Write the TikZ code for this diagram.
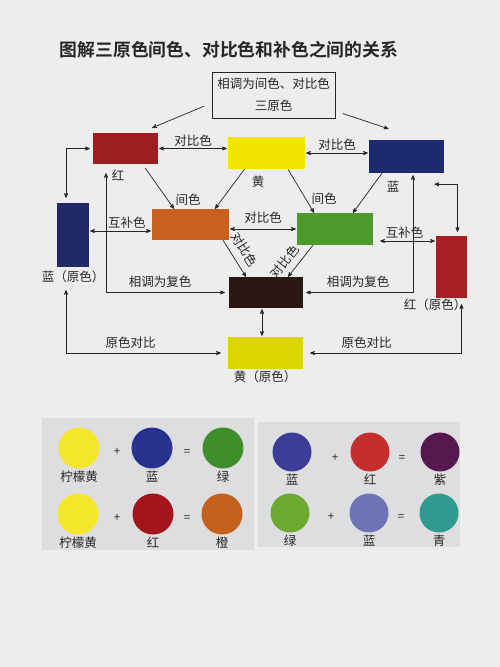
\documentclass[tikz,border=0pt]{standalone}
\usepackage{fontspec}
\setmainfont{Noto Sans CJK SC}
\newfontfamily\titlefont{Noto Sans CJK SC Bold}
\usepackage{tikz}
\usetikzlibrary{arrows}
\usetikzlibrary{calc}
\usetikzlibrary{positioning}

\definecolor{paper}{HTML}{EDEDEE}
\definecolor{panel}{HTML}{DEDEE1}
\definecolor{ink}{HTML}{262626}
\definecolor{redA}{HTML}{9C1E1E}
\definecolor{yellowA}{HTML}{F2E500}
\definecolor{blueA}{HTML}{1E2A6E}
\definecolor{orangeA}{HTML}{C8601E}
\definecolor{greenA}{HTML}{4C9A2A}
\definecolor{blueB}{HTML}{1F2A66}
\definecolor{redB}{HTML}{A82024}
\definecolor{darkA}{HTML}{2B1712}
\definecolor{yellowB}{HTML}{DCD600}
\definecolor{lemonC}{HTML}{F4E62A}
\definecolor{blueC}{HTML}{27338F}
\definecolor{greenC}{HTML}{3E8E2C}
\definecolor{redC}{HTML}{A3141B}
\definecolor{orangeC}{HTML}{C2621C}
\definecolor{blueD}{HTML}{3B3E96}
\definecolor{redD}{HTML}{C42F2B}
\definecolor{purpleD}{HTML}{56184E}
\definecolor{greenD}{HTML}{6BAA2F}
\definecolor{lavenderD}{HTML}{6E72B6}
\definecolor{tealD}{HTML}{319A8F}

\begin{document}
\begin{tikzpicture}[x=1pt,y=-1pt,>=stealth',
	colour box/.style={inner sep=0pt,minimum width=76pt,minimum height=32pt},
	tall box/.style={inner sep=0pt,minimum width=32pt,minimum height=63pt},
	label/.style={font=\fontsize{12.5}{15}\selectfont,text=ink,inner sep=2pt},
	arr/.style={->,draw=ink,line width=0.7pt},
	link/.style={<->,draw=ink,line width=0.7pt,shorten >=1pt,shorten <=1pt},
	blob/.style={circle,inner sep=0pt,minimum size=41pt},
	sign/.style={font=\fontsize{11.5}{13}\selectfont,text=ink}]

	\fill[paper] (0,0) rectangle (500,667);
	\useasboundingbox (0,0) rectangle (500,667);

	\node[font=\titlefont\fontsize{17.8}{21}\selectfont,text=ink] (title) at (229,50) {图解三原色间色、对比色和补色之间的关系};
	\node[label,draw=ink,line width=0.7pt,align=center,minimum width=123pt,minimum height=46pt] (rule) at (273.5,95) {相调为间色、对比色\\[7pt]三原色};

	% colour boxes
	\node[colour box,fill=redA,minimum width=65pt,minimum height=31pt] (red) at (125.5,148.5) {};
	\node[colour box,fill=yellowA,minimum width=77pt] (yellow) at (266.5,153) {};
	\node[colour box,fill=blueA,minimum width=75pt,minimum height=33pt] (blue) at (406.5,156.5) {};
	\node[colour box,fill=orangeA,minimum width=77pt,minimum height=31pt] (orange) at (190.5,224.5) {};
	\node[colour box,fill=greenA] (green) at (335,229) {};
	\node[tall box,fill=blueB,minimum height=64pt] (bluel) at (73,235) {};
	\node[tall box,fill=redB,minimum width=31pt,minimum height=62pt] (redr) at (451.5,267) {};
	\node[colour box,fill=darkA,minimum width=74pt,minimum height=31pt] (dark) at (266,292.5) {};
	\node[colour box,fill=yellowB,minimum width=75pt] (yellowb) at (265.5,353) {};

	\node[label] (redlab) at (118,175) {红};
	\node[label] (yellowlab) at (258,182) {黄};
	\node[label] (bluelab) at (393,187) {蓝};
	\node[label] (orangelab) at (188,200) {间色};
	\node[label] (greenlab) at (324,199) {间色};
	\node[label] (bluellab) at (73,277) {蓝（原色）};
	\node[label] (redrlab) at (435,305) {红（原色）};
	\node[label] (yellowblab) at (265,377) {黄（原色）};

	% arrows
	\draw[arr,shorten <=8pt] ([yshift=-8]rule.west) -- ([xshift=-6,yshift=5]red.north east);
	\draw[arr,shorten <=8pt] ([yshift=-16]rule.east) -- ([xshift=-18,yshift=11]blue.north);
	\draw[arr,shorten <=5pt] ([xshift=17]red.south) -- ([xshift=-16.5]orange.north);
	\draw[arr] ([xshift=-22]yellow.south) -- ([xshift=24.5]orange.north);
	\draw[arr] ([xshift=21.5]yellow.south) -- ([xshift=-21]green.north);
	\draw[arr] ([xshift=-24.5]blue.south) -- ([xshift=18]green.north);
	\draw[arr] ([xshift=32.5]orange.south) -- node[label,sloped,above=5pt,pos=0.45] {对比色} ([xshift=-20]dark.north);
	\draw[arr] ([xshift=-22]green.south) -- node[label,sloped,above=4pt,pos=0.75] {对比色} ([xshift=22]dark.north);

	\draw[link] (red.east) -- node[label,above] {对比色} (red.east -| yellow.west);
	\draw[link] (yellow.east) -- node[label,above] {对比色} (yellow.east -| blue.west);
	\draw[link] (green.west) -- node[label,above=3pt] {对比色} (green.west -| orange.east);
	\draw[link] ([yshift=-6.5]orange.west) -- node[label,above,pos=0.4] {互补色} ([yshift=-6.5]orange.west -| bluel.east);
	\draw[link,shorten <=7pt] ([yshift=-12]green.east) -- node[label,above] {互补色} ([yshift=-12]green.east -| redr.west);

	\draw[link,shorten <=9pt,shorten >=4pt] ([xshift=-19.5]red.south) |- node[label,above=3pt,pos=0.72] {相调为复色} (dark.west);
	\draw[link,shorten <=2pt,shorten >=3pt] ([xshift=6.5]blue.south) |- node[label,above=3pt,pos=0.75] {相调为复色} (dark.east);
	\draw[link,shorten <=3pt,shorten >=5pt] (red.west) -| ([xshift=-7]bluel.north);
	\draw[link,shorten >=4pt] ([xshift=27,yshift=-11]blue.south) -| ([xshift=6]redr.north);
	\draw[link,shorten <=5pt,shorten >=7pt] ([xshift=-7]bluellab.south) |- node[label,above=2pt,pos=0.7] {原色对比} (yellowb.west);
	\draw[link,shorten <=7pt,shorten >=6pt] (yellowb.east) -| node[label,above=2pt,pos=0.2] {原色对比} ([xshift=10]redr.south);
	\draw[link] ([xshift=-4]dark.south) -- ([xshift=-4]dark.south |- yellowb.north);

	% mixing panels
	\fill[panel] (42,418) rectangle (254,550);
	\fill[panel] (258,422) rectangle (460,547);

	\node[blob,fill=lemonC] (lemon1) at (79,448) {};
	\node[sign] (plus1) at (117,452) {+};
	\node[blob,fill=blueC] (blue1) at (152,448) {};
	\node[sign] (eq1) at (187,452) {=};
	\node[blob,fill=greenC] (green1) at (223,448) {};
	\node[label] (lemon1lab) [below=0pt of lemon1] {柠檬黄};
	\node[label] (blue1lab) [below=0pt of blue1] {蓝};
	\node[label] (green1lab) [below=0pt of green1] {绿};

	\node[blob,fill=lemonC] (lemon2) at (78,514) {};
	\node[sign] (plus2) at (117,518) {+};
	\node[blob,fill=redC] (red2) at (153,514) {};
	\node[sign] (eq2) at (187,518) {=};
	\node[blob,fill=orangeC] (orange2) at (222,514) {};
	\node[label] (lemon2lab) [below=0pt of lemon2] {柠檬黄};
	\node[label] (red2lab) [below=0pt of red2] {红};
	\node[label] (orange2lab) [below=0pt of orange2] {橙};

	\node[blob,fill=blueD,minimum size=39pt] (blue3) at (292,452) {};
	\node[sign] (plus3) at (335,458) {+};
	\node[blob,fill=redD,minimum size=39pt] (red3) at (370,452) {};
	\node[sign] (eq3) at (402,458) {=};
	\node[blob,fill=purpleD,minimum size=39pt] (purple3) at (440,452) {};
	\node[label] (blue3lab) [below=0pt of blue3] {蓝};
	\node[label] (red3lab) [below=0pt of red3] {红};
	\node[label] (purple3lab) [below=0pt of purple3] {紫};

	\node[blob,fill=greenD,minimum size=39pt] (green4) at (290,513) {};
	\node[sign] (plus4) at (331,517) {+};
	\node[blob,fill=lavenderD,minimum size=39pt] (lavender4) at (369,513) {};
	\node[sign] (eq4) at (401,517) {=};
	\node[blob,fill=tealD,minimum size=39pt] (teal4) at (439,513) {};
	\node[label] (green4lab) [below=0pt of green4] {绿};
	\node[label] (lavender4lab) [below=0pt of lavender4] {蓝};
	\node[label] (teal4lab) [below=0pt of teal4] {青};

\end{tikzpicture}
\end{document}
